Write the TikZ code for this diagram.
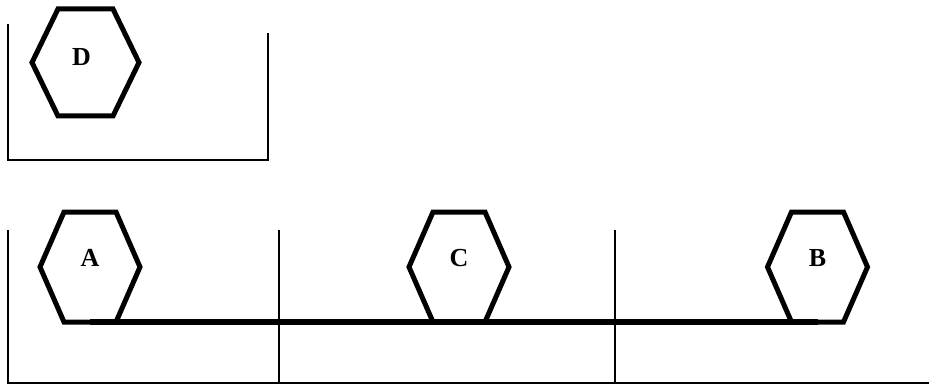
\documentclass[tikz,border=0pt]{standalone}
\usepackage{fontspec}
\setmainfont{Liberation Serif}

\begin{document}
\begin{tikzpicture}[x=1pt, y=-1pt,
  hexa/.style={rectangle, minimum width=52pt, minimum height=110pt, inner sep=0pt, outer sep=0pt},
  hexline/.style={draw, line width=5pt},
  lbl/.style={font=\fontsize{26}{26}\selectfont\bfseries},
  wall/.style={line width=1.5pt},
  bar/.style={line width=5.5pt}
]
\useasboundingbox (0,0) rectangle (929,385);

% upper box
\draw[wall] (8,24) |- (268,160) -- (268,33);
\node[hexa, minimum width=55pt, minimum height=107pt, label={[lbl, xshift=-4pt, yshift=5pt]center:D}] (D) at (85.5,62.5) {};
\draw[hexline] (D.north west) -- (D.north east) -- ([xshift=26pt]D.east) -- (D.south east) -- (D.south west) -- ([xshift=-26pt]D.west) -- cycle;

% lower box
\draw[wall] (8,230) |- (929,383);
\draw[wall] (279,230) -- (279,383);
\draw[wall] (615,230) -- (615,383);

\node[hexa, label={[lbl, yshift=9pt]center:A}] (A) at (90,267) {};
\node[hexa, label={[lbl, yshift=9pt]center:C}] (C) at (459,267) {};
\node[hexa, label={[lbl, yshift=9pt]center:B}] (B) at (817.5,267) {};
\foreach \n in {A,C,B}
  \draw[hexline] (\n.north west) -- (\n.north east) -- ([xshift=24pt]\n.east) -- (\n.south east) -- (\n.south west) -- ([xshift=-24pt]\n.west) -- cycle;

\draw[bar] (A.south) -- (B.south);

\end{tikzpicture}
\end{document}
